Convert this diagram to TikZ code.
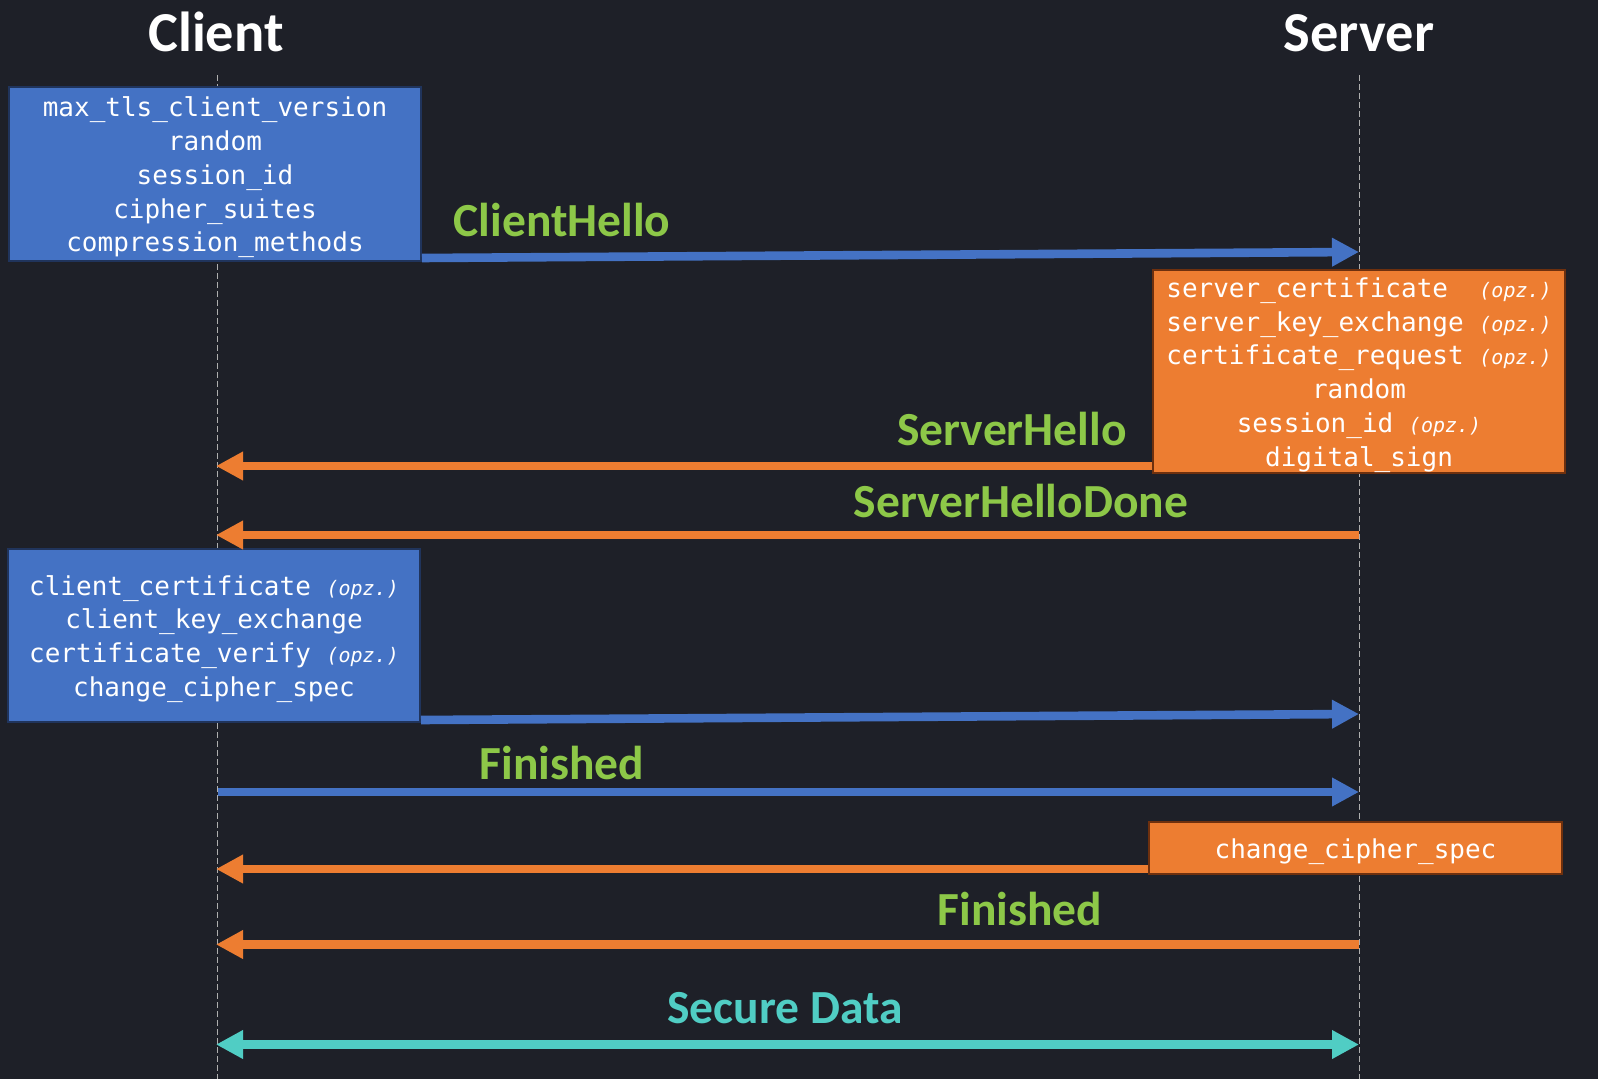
\documentclass[tikz,border=0pt]{standalone}
\usepackage{fontspec}
\setsansfont{Carlito}
\setmonofont{DejaVu Sans Mono}
\usetikzlibrary{arrows.meta}
\definecolor{bg}{RGB}{30,32,40}
\definecolor{boxblue}{RGB}{68,114,196}
\definecolor{bluedark}{RGB}{32,52,92}
\definecolor{boxorange}{RGB}{237,125,49}
\definecolor{orangedark}{RGB}{110,48,14}
\definecolor{msggreen}{RGB}{141,200,72}
\definecolor{msgteal}{RGB}{80,205,196}
\definecolor{lifegray}{RGB}{175,175,175}
\newcommand\opz{{\fontsize{10}{16.85}\selectfont\itshape (opz.)}}
\newcommand\firstline{\rule{0pt}{13.4pt}}
\tikzset{
  lifeline/.style={draw=lifegray, line width=0.5pt, dash pattern=on 3pt off 1.5pt},
  msgbox/.style={rectangle, inner sep=0pt, align=center, text=white,
    font=\ttfamily\fontsize{13}{16.85}\selectfont, line width=1pt},
  cbox/.style={msgbox, fill=boxblue, draw=bluedark},
  sbox/.style={msgbox, fill=boxorange, draw=orangedark},
  tipa/.tip={Triangle[length=13.5pt,width=13.5pt]},
  msg/.style={line width=4.3pt, -tipa},
  title/.style={font=\sffamily\bfseries\fontsize{28.2}{34}\selectfont, text=white, anchor=base},
  lbl/.style={font=\sffamily\bfseries\fontsize{23.75}{28}\selectfont, text=msggreen, anchor=base},
}
\begin{document}
\begin{tikzpicture}[x=0.5pt,y=-0.5pt]
  \fill[bg] (0,0) rectangle (1598,1079);
  \useasboundingbox (0,0) rectangle (1598,1079);

  % titles
  \node[title] (tclient) at (216,52) {Client};
  \node[title] (tserver) at (1359,52) {Server};

  % lifelines
  \coordinate (ctop) at (217,75);
  \coordinate (cbot) at (217,1079);
  \coordinate (stop) at (1359,75);
  \coordinate (sbot) at (1359,1079);
  \draw[lifeline] (ctop) -- (cbot);
  \draw[lifeline] (stop) -- (sbot);

  % lifeline points
  \coordinate (s-ch)   at (1359,252);
  \coordinate (c-sh)   at (216,466);
  \coordinate (s-shd)  at (1359,535);
  \coordinate (c-shd)  at (216,535);
  \coordinate (s-ckx)  at (1359,714);
  \coordinate (c-fin)  at (218,792);
  \coordinate (s-fin)  at (1359,792);
  \coordinate (c-ccs)  at (216,869);
  \coordinate (s-fin2) at (1359,944.5);
  \coordinate (c-fin2) at (216,944.5);
  \coordinate (c-sd)   at (216,1044.5);
  \coordinate (s-sd)   at (1359,1044.5);

  % boxes
  \node[cbox, minimum width=206pt, minimum height=87pt] (cb1) at (215,174)
    {\firstline max\_tls\_client\_version\\random\\session\_id\\cipher\_suites\\compression\_methods};
  \node[sbox, minimum width=206pt, minimum height=101.5pt] (sb1) at (1359,371.5)
    {\firstline server\_certificate\ \ \opz\\server\_key\_exchange\ \opz\\certificate\_request\ \opz\\random\\session\_id\ \opz\\digital\_sign};
  \node[cbox, minimum width=206pt, minimum height=86.5pt] (cb2) at (214,635.5)
    {\firstline client\_certificate\ \opz\\client\_key\_exchange\\certificate\_verify\ \opz\\change\_cipher\_spec};
  \node[sbox, minimum width=206.5pt, minimum height=26pt] (sb2) at (1355.5,848)
    {\firstline change\_cipher\_spec};

  % messages
  \draw[msg, boxblue] ([yshift=2pt]cb1.south east) -- (s-ch);
  \draw[msg, boxorange] ([yshift=4pt]sb1.south west) -- (c-sh);
  \draw[msg, boxorange] (s-shd) -- (c-shd);
  \draw[msg, boxblue] ([yshift=1.5pt]cb2.south east) -- (s-ckx);
  \draw[msg, boxblue] (c-fin) -- (s-fin);
  \draw[msg, boxorange] ([yshift=3pt]sb2.south west) -- (c-ccs);
  \draw[msg, boxorange] (s-fin2) -- (c-fin2);
  \draw[line width=4.3pt, msgteal, tipa-tipa] (c-sd) -- (s-sd);

  % labels
  \node[lbl] (lch)  at (562,237) {ClientHello};
  \node[lbl] (lsh)  at (1012,445) {ServerHello};
  \node[lbl] (lshd) at (1021,517) {ServerHelloDone};
  \node[lbl] (lf1)  at (562,779) {Finished};
  \node[lbl] (lf2)  at (1020,925) {Finished};
  \node[lbl, text=msgteal] (lsd) at (785,1023) {Secure Data};
\end{tikzpicture}
\end{document}
